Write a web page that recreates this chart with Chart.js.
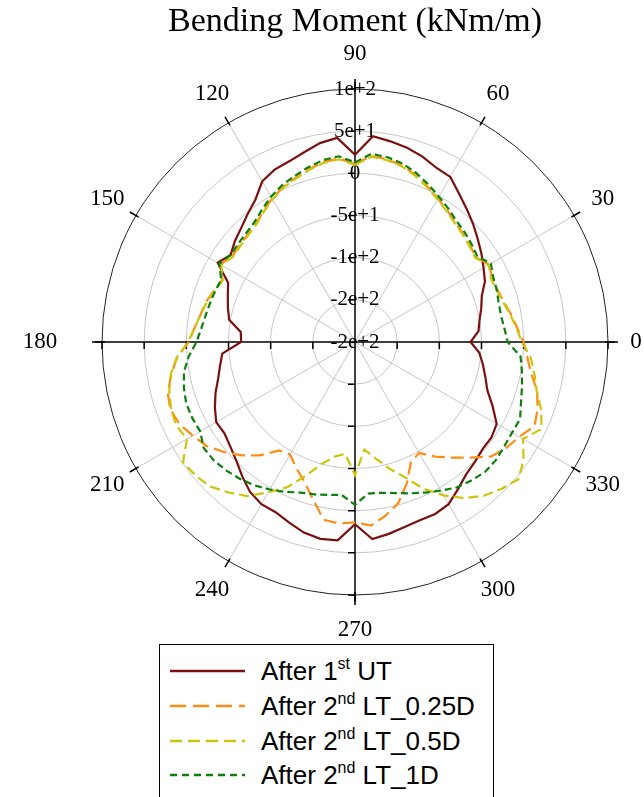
<!DOCTYPE html>
<html>
<head>
<meta charset="utf-8">
<script src="https://cdn.jsdelivr.net/npm/chart.js@4.4.1/dist/chart.umd.min.js"></script>
<style>
  html, body { margin: 0; padding: 0; background: #fff; }
  #wrap { position: relative; width: 644px; height: 797px; overflow: hidden; }
  #c { position: absolute; left: 0; top: 0; }
  #legend {
    position: absolute; left: 159px; top: 644px; width: 335px; height: 180px;
    border: 1.5px solid #000; box-sizing: border-box; background: #fff;
    font-family: "Liberation Sans", Arial, sans-serif; font-size: 26px; color: #000;
  }
  .row { position: absolute; left: 0; height: 30px; width: 100%; }
  .row svg { position: absolute; left: 9px; top: 0; }
  .row span { position: absolute; left: 101px; top: 0; line-height: 30px; white-space: nowrap; }
  .row sup { font-size: 16px; line-height: 0; vertical-align: 11px; }
</style>
</head>
<body>
<div id="wrap">
  <canvas id="c" width="644" height="797"></canvas>
  <div id="legend"></div>
</div>
<script>
// polar angle of each sample, degrees counter-clockwise from the 0 direction
const thetaDeg = [0,5,10,15,20,25,30,35,40,45,50,55,60,65,70,75,80,85,
  90,95,100,105,110,115,120,125,130,135,140,145,150,155,160,165,170,175,
  180,185,190,195,200,205,210,215,220,225,230,235,240,245,250,255,260,265,
  270,275,280,285,290,295,300,305,310,315,320,325,330,335,340,345,350,355];

// bending moment (kNm/m) at each angle
const momentUT1 = [-63,-53,-50,-45,-40,-30,-24,-17,-10,-2,6,15,26,28,34,38.5,41.6,45,
  22,43,39.5,33,28,25.5,20,6,-2,-9,-14,-20,-12,-34,-39.5,-44,-48.5,-64,
  -65,-42,-37.5,-32,-24,-16.7,-10,-11,-7,-1,8,17,22,22.7,28,34,37,36,
  16,34.5,31,27,25,25,22,13,5,1,-2.5,-2.5,-6,-20,-33,-40,-46,-52];

const momentLT025 = [0,-7,-12,-17,-20,-21,-16,-25,-22,-18.5,-15,-9.5,-3.5,3.5,10.5,16.5,20,21.5,
  11,18.5,16.5,12,7,2.5,-3.5,-10.5,-17,-20,-21.5,-22.5,-16,-26,-22,-17,-14,-9,
  -3,12,21,30,33,30,22,15,3,-10,-24.5,-43,-46,-35,-24,-7,14,16,
  14,18.5,9,-2,-21,-43,-48,-34,-21,-6,11,19,25,35,30.5,23.5,12,5];

const momentLT05 = [-2,-8,-13,-18,-21,-22,-17,-26,-23,-19.5,-16,-10.5,-4.5,2.5,9.5,15.5,19,20.5,
  10,17.5,15.5,11,6,1.5,-4.5,-11.5,-18,-21,-22.5,-23.5,-17,-27,-23,-18,-14,-9,
  -2,12,22,28,32,34,30,49,46.5,42.5,33,23,6,-10,-32,-51,-62,-67,
  -42,-72,-60,-45,-30,-8,10,26,38,46,53,44,30,44,35,23,16,9];

const momentLT1 = [-19,-22,-24,-23.5,-21,-19,-14,-23,-19.5,-16,-12.8,-7,-1,6,13,19,22.5,24,
  13,21,19,14.5,9.5,5,-1,-8,-14.5,-17.5,-19,-20,-14,-25,-23.5,-22,-20,-17,
  -12,-2,6,10,13,13,12,19,18.5,15.6,12,7.5,2,-4,-10,-13,-16,-18,
  -7,-19.5,-18.5,-14.5,-9,-3,3.5,10.5,14.5,18,18,16,15,16,9.5,5,1,-3];

const radialTickLabels = ['-2e+2','-2e+2','-1e+2','-5e+1','0','5e+1','1e+2'];
const angleTickValues = [0,30,60,90,120,150,180,210,240,270,300,330];
const angleTickLabels = ['0','30','60','90','120','150','180','210','240','270','300','330'];

const seriesNames = ['After 1st UT','After 2nd LT_0.25D','After 2nd LT_0.5D','After 2nd LT_1D'];
const legendText = ['After 1<sup>st</sup> UT','After 2<sup>nd</sup> LT_0.25D','After 2<sup>nd</sup> LT_0.5D','After 2<sup>nd</sup> LT_1D'];
const seriesData = [momentUT1, momentLT025, momentLT05, momentLT1];
const seriesColors = ['#7a1010','#ff8c14','#cdc40c','#0d7f0d'];
const seriesDash = [[], [13,6], [10,5], [7,4]];
const legendDash = ['', '16,7', '12,6', '7,5'];

// The radar spokes run clockwise from the top; spoke i sits at polar angle 90 - i*step.
const step = 360 / thetaDeg.length;
const spokeOrder = thetaDeg.map((_, i) => thetaDeg.indexOf(((90 - i * step) % 360 + 360) % 360));
const spokeLabels = spokeOrder.map(j => String(thetaDeg[j]));
const isAngleGrid = i => {
  const a = thetaDeg[spokeOrder[i]];
  return a % 30 === 0 && a % 90 !== 0;
};

const polarFrame = {
  id: 'polarFrame',
  beforeDatasetsDraw(chart) {
    const s = chart.scales.r, ctx = chart.ctx;
    const cx = s.xCenter, cy = s.yCenter, R = s.drawingArea;
    ctx.save();
    ctx.strokeStyle = '#000';
    ctx.lineWidth = 1.5;
    ctx.beginPath();
    ctx.moveTo(cx - R - 10, cy); ctx.lineTo(cx + R + 10, cy);
    ctx.moveTo(cx, cy - R - 10); ctx.lineTo(cx, cy + R + 10);
    ctx.stroke();
    // ticks on the two axes at every ring
    ctx.beginPath();
    s.ticks.forEach(t => {
      const d = s.getDistanceFromCenterForValue(t.value);
      if (d <= 0.5) return;
      ctx.moveTo(cx - d, cy); ctx.lineTo(cx - d, cy + 7);
      ctx.moveTo(cx + d, cy); ctx.lineTo(cx + d, cy + 7);
      ctx.moveTo(cx, cy - d); ctx.lineTo(cx - 7, cy - d);
      ctx.moveTo(cx, cy + d); ctx.lineTo(cx - 7, cy + d);
    });
    // short marks on the rim at each labelled angle
    angleTickValues.forEach(a => {
      const r = a * Math.PI / 180;
      ctx.moveTo(cx + Math.cos(r) * (R - 3), cy - Math.sin(r) * (R - 3));
      ctx.lineTo(cx + Math.cos(r) * (R + 7), cy - Math.sin(r) * (R + 7));
    });
    ctx.stroke();
    ctx.restore();
  },
  afterDraw(chart) {
    const s = chart.scales.r, ctx = chart.ctx;
    const cx = s.xCenter, cy = s.yCenter, R = s.drawingArea;
    ctx.save();
    ctx.fillStyle = '#000';
    ctx.font = '23px "Liberation Serif", "Times New Roman", serif';
    ctx.textAlign = 'center';
    ctx.textBaseline = 'middle';
    angleTickValues.forEach((a, k) => {
      let d = R + 33;
      if (a === 0) d = R + 28;
      if (a === 180) d = R + 62;
      if (a === 90 || a === 270) d = R + 35;
      const r = a * Math.PI / 180;
      ctx.fillText(angleTickLabels[k], cx + Math.cos(r) * d, cy - Math.sin(r) * d);
    });
    ctx.restore();
  }
};

new Chart(document.getElementById('c'), {
  type: 'radar',
  data: {
    labels: spokeLabels,
    datasets: seriesData.map((arr, k) => ({
      label: seriesNames[k],
      data: spokeOrder.map(j => arr[j]),
      borderColor: seriesColors[k],
      borderDash: seriesDash[k],
      borderWidth: 2.2,
      pointRadius: 0,
      pointHoverRadius: 0,
      fill: false,
      tension: 0,
      order: seriesData.length - 1 - k
    }))
  },
  options: {
    responsive: false,
    animation: false,
    layout: { padding: { left: 89, right: 23, top: 0, bottom: 182 } },
    plugins: {
      legend: { display: false },
      tooltip: { enabled: false },
      title: {
        display: true,
        text: 'Bending Moment (kNm/m)',
        color: '#000',
        font: { family: '"Liberation Serif", "Times New Roman", serif', size: 34, weight: 'normal' },
        padding: { top: 2, bottom: 27.4 }
      }
    },
    scales: {
      r: {
        min: -200,
        max: 100,
        startAngle: 0,
        beginAtZero: false,
        ticks: {
          stepSize: 50,
          color: '#000',
          showLabelBackdrop: false,
          font: { family: '"Liberation Serif", "Times New Roman", serif', size: 21 },
          callback: (v, i) => radialTickLabels[i]
        },
        grid: {
          circular: true,
          lineWidth: 1,
          color: ctx => ctx.index === radialTickLabels.length - 1 ? '#222' : '#c6c6c6'
        },
        angleLines: {
          display: true,
          color: ctx => isAngleGrid(ctx.index) ? '#c6c6c6' : 'rgba(0,0,0,0)',
          lineWidth: ctx => isAngleGrid(ctx.index) ? 1 : 0
        },
        pointLabels: { display: false }
      }
    }
  },
  plugins: [polarFrame]
});

// legend box below the plot
const legend = document.getElementById('legend');
const rowCenters = [26, 61, 96, 130];
seriesNames.forEach((name, k) => {
  const row = document.createElement('div');
  row.className = 'row';
  row.style.top = (rowCenters[k] - 15) + 'px';
  row.innerHTML =
    '<svg width="78" height="30"><line x1="1" y1="15" x2="76" y2="15" stroke="' + seriesColors[k] +
    '" stroke-width="2.4"' + (legendDash[k] ? ' stroke-dasharray="' + legendDash[k] + '"' : '') + '/></svg>' +
    '<span>' + legendText[k] + '</span>';
  legend.appendChild(row);
});
</script>
</body>
</html>
